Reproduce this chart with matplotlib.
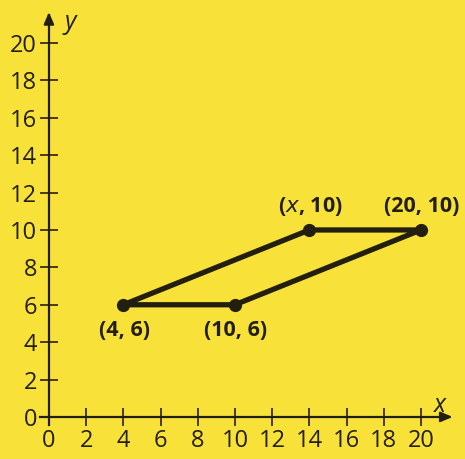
import matplotlib
matplotlib.use("Agg")
import matplotlib.pyplot as plt

# Data
vert_x = [4, 10, 20, 14]
vert_y = [6, 6, 10, 10]
vert_labels = ["(4, 6)", "(10, 6)", "(20, 10)", r"($\it{x}$, 10)"]
label_x = [4.05, 10.05, 20.05, 14.05]
label_y = [4.6, 4.6, 11.25, 11.25]
x_ticks = list(range(0, 21, 2))
y_ticks = list(range(0, 21, 2))

bg = "#F8E23A"
ink = "#231F10"
fam = ["Open Sans", "DejaVu Sans"]

fig = plt.figure(figsize=(4.65, 4.59), dpi=100, facecolor=bg)
ax = fig.add_axes([0, 0, 1, 1], facecolor=bg)
ax.set_xlim(-2.63, 22.37)
ax.set_ylim(-2.25, 22.3)

for s in ["top", "right"]:
    ax.spines[s].set_visible(False)
ax.spines["left"].set_position(("data", 0))
ax.spines["bottom"].set_position(("data", 0))
ax.spines["left"].set_bounds(-0.45, 21.5)
ax.spines["bottom"].set_bounds(-0.5, 21.5)
for s in ["left", "bottom"]:
    ax.spines[s].set_linewidth(1.6)
    ax.spines[s].set_color(ink)

ax.annotate("", xy=(21.85, 0), xytext=(21.0, 0),
            arrowprops=dict(arrowstyle="-|>,head_length=0.7,head_width=0.3", color=ink, lw=1.6))
ax.annotate("", xy=(0, 21.8), xytext=(0, 21.0),
            arrowprops=dict(arrowstyle="-|>,head_length=0.7,head_width=0.3", color=ink, lw=1.6))

ax.set_xticks(x_ticks)
ax.set_yticks(y_ticks)
ax.set_xticklabels([str(v) for v in x_ticks], fontsize=17, family=fam, color=ink)
ax.set_yticklabels([str(v) for v in y_ticks], fontsize=17, family=fam, color=ink)
ax.tick_params(axis="both", direction="inout", length=13, width=1.4, color="#4a3a10", pad=2)

# polygon
px = vert_x + [vert_x[0]]
py = vert_y + [vert_y[0]]
ax.plot(px, py, color=ink, lw=3.8, solid_capstyle="round", zorder=3)
ax.plot(vert_x, vert_y, "o", color=ink, ms=8.5, zorder=4)

for lx, ly, t in zip(label_x, label_y, vert_labels):
    ax.text(lx, ly, t, fontsize=15.5, fontweight="bold", family=fam, color=ink,
            ha="center", va="center")

ax.text(1.15, 21.1, "y", fontsize=18, style="italic", family=fam, color=ink,
        ha="center", va="center")
ax.text(21.0, 0.6, "x", fontsize=18, style="italic", family=fam, color=ink,
        ha="center", va="center")

fig.savefig("out.png", dpi=100, facecolor=bg)
